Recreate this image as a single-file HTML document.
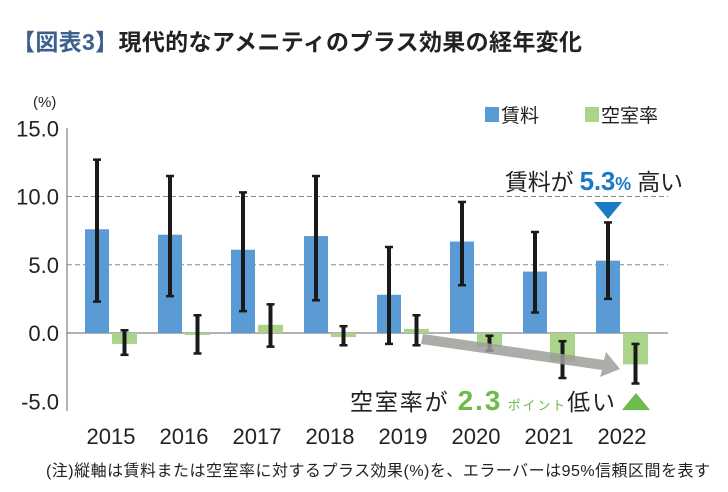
<!DOCTYPE html>
<html><head><meta charset="utf-8"><style>
body{margin:0;background:#fff;width:728px;height:487px;overflow:hidden;font-family:"Liberation Sans","Noto Sans CJK JP",sans-serif;}
svg text{font-family:"Liberation Sans","Noto Sans CJK JP",sans-serif;}
</style></head><body>
<svg id="chart" width="728" height="487" xmlns="http://www.w3.org/2000/svg">
<text x="12" y="50" font-size="23" font-weight="bold" fill="#222" textLength="570"><tspan fill="#3d5f8f">【図表3】</tspan>現代的なアメニティのプラス効果の経年変化</text>
<text x="33" y="107" font-size="15" fill="#222">(%)</text>
<rect x="485" y="107" width="14" height="15" fill="#5b9bd5"/>
<text x="501" y="122" font-size="19" fill="#222">賃料</text>
<rect x="585" y="107" width="14" height="15" fill="#a9d48a"/>
<text x="601" y="122" font-size="19" fill="#222">空室率</text>
<g id="grid"></g><g id="bars"></g><g id="err"></g><g id="xlab"></g>
<line x1="67" y1="128" x2="67" y2="411" stroke="#666" stroke-width="1"/>
<polygon points="423,334 604,360 606,352 620,369 600,377 602,370 421,344" fill="#9e9e9a" opacity="0.85"/>
<text x="505" y="190" font-size="23" fill="#222" textLength="178">賃料が <tspan fill="#1a7ac2" font-weight="bold" font-size="26">5.3</tspan><tspan fill="#1a7ac2" font-weight="bold" font-size="18">%</tspan> 高い</text>
<polygon points="594,202 622,202 608,219" fill="#1a7ac2"/>
<text x="350" y="410" font-size="23" fill="#222" textLength="265">空室率が <tspan fill="#6dbb4a" font-weight="bold" font-size="28">2.3</tspan><tspan fill="#6dbb4a" font-size="13"> ポイント</tspan>低い</text>
<polygon points="622,410 650,410 636,393" fill="#6dbb4a"/>
<text x="46" y="476" font-size="16" fill="#222" textLength="664">(注)縦軸は賃料または空室率に対するプラス効果(%)を、エラーバーは95%信頼区間を表す</text>
</svg>
<script>
const years=["2015","2016","2017","2018","2019","2020","2021","2022"];
const rent=[7.6,7.2,6.1,7.1,2.8,6.7,4.5,5.3];
const rentLo=[2.3,2.7,1.6,2.4,-0.8,3.5,1.5,2.5];
const rentHi=[12.7,11.5,10.3,11.5,6.3,9.6,7.4,8.1];
const vac=[-0.8,-0.15,0.6,-0.3,0.3,-1.0,-2.1,-2.3];
const vacLo=[-1.6,-1.5,-1.0,-0.9,-0.9,-1.3,-3.3,-3.7];
const vacHi=[0.2,1.3,2.1,0.5,1.3,-0.2,-0.6,-0.8];
const ticks=[15,10,5,0,-5];
const tickLabels=["15.0","10.0","5.0","0.0","-5.0"];
const NS="http://www.w3.org/2000/svg";
function y(v){return 333-v*13.65;}
function xc(i){return 85+73*i;}
function mk(t,a,p){const e=document.createElementNS(NS,t);for(const k in a)e.setAttribute(k,a[k]);document.getElementById(p).appendChild(e);return e;}
ticks.forEach((t,i)=>{
 const l=mk('text',{x:59,y:y(t)+8,'font-size':22,'text-anchor':'end',fill:'#222'},'grid');l.textContent=tickLabels[i];
 
 
 if(t===10||t===5){const g=mk('line',{x1:67,x2:668,y1:y(t),y2:y(t),stroke:'#888','stroke-dasharray':'5,3'},'grid');
 
 }
});
const z=mk('line',{x1:67,x2:668,y1:y(0),y2:y(0),stroke:'#666'},'grid');


function eb(cx,lo,hi){
 const a=[[cx,y(hi),cx,y(lo)],[cx-4,y(hi),cx+4,y(hi)],[cx-4,y(lo),cx+4,y(lo)]];
 a.forEach(c=>{const l=mk('line',{x1:c[0],y1:c[1],x2:c[2],y2:c[3],stroke:'#1a1a1a','stroke-width':c[0]===c[2]?4:2.5},'err');
 
 });
}
years.forEach((yr,i)=>{
 const bx=xc(i);
 const b=mk('rect',{x:bx,y:Math.min(y(rent[i]),y(0)),width:24,height:Math.abs(y(rent[i])-y(0)),fill:'#5b9bd5'},'bars');
 
 
 const g=mk('rect',{x:bx+27,y:Math.min(y(vac[i]),y(0)),width:25,height:Math.abs(y(vac[i])-y(0)),fill:'#a9d48a'},'bars');
 
 
 eb(bx+12,rentLo[i],rentHi[i]);
 eb(bx+39.5,vacLo[i],vacHi[i]);
 const t=mk('text',{x:bx+26,y:444,'font-size':22,'text-anchor':'middle',fill:'#222'},'xlab');t.textContent=yr;
 
 
});
</script>
</body></html>
